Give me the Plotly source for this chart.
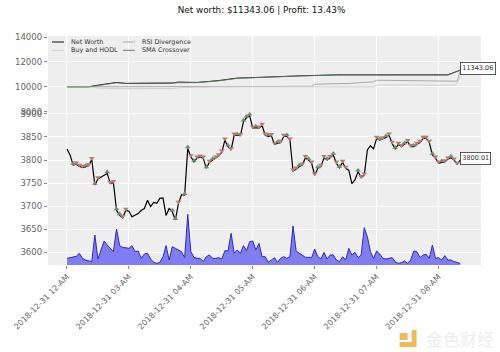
import plotly.graph_objects as go

title_text = "Net worth: $11343.06 | Profit: 13.43%"
tick_index = [0, 20, 40, 60, 80, 100, 120]
tick_labels = ["2018-12-31 12-AM", "2018-12-31 03-AM", "2018-12-31 04-AM", "2018-12-31 05-AM",
               "2018-12-31 06-AM", "2018-12-31 07-AM", "2018-12-31 08-AM"]

price = [3824, 3811, 3789, 3791, 3786, 3784, 3785, 3788, 3801, 3746, 3759, 3764, 3767, 3771, 3749, 3751,
         3691, 3680, 3675, 3691, 3689, 3677, 3680, 3684, 3691, 3695, 3713, 3699, 3708, 3706, 3717, 3718,
         3680, 3695, 3688, 3670, 3706, 3725, 3724, 3825, 3807, 3796, 3804, 3806, 3804, 3782, 3795, 3800,
         3804, 3809, 3817, 3843, 3829, 3822, 3854, 3853, 3853, 3883, 3892, 3896, 3869, 3870, 3869, 3875,
         3854, 3851, 3853, 3834, 3836, 3838, 3851, 3851, 3843, 3776, 3780, 3786, 3789, 3805, 3800, 3793,
         3767, 3782, 3786, 3805, 3800, 3805, 3811, 3793, 3783, 3795, 3782, 3778, 3749, 3757, 3775, 3762,
         3767, 3822, 3831, 3824, 3847, 3843, 3846, 3849, 3854, 3836, 3824, 3834, 3829, 3834, 3840, 3829,
         3829, 3834, 3838, 3847, 3847, 3838, 3811, 3804, 3793, 3795, 3796, 3802, 3805, 3800, 3791, 3800.01]

volume = [20, 22, 25, 26, 35, 20, 15, 13, 10, 90, 18, 45, 72, 60, 50, 40,
          108, 58, 53, 52, 50, 58, 40, 42, 20, 33, 35, 18, 8, 5, 8, 25,
          58, 15, 55, 50, 45, 40, 22, 152, 40, 23, 20, 20, 10, 25, 30, 20,
          20, 22, 18, 43, 42, 95, 35, 45, 35, 58, 43, 70, 72, 45, 65, 25,
          25, 8, 15, 22, 8, 20, 25, 20, 25, 117, 42, 35, 30, 23, 23, 22,
          48, 25, 18, 38, 18, 30, 30, 15, 10, 25, 15, 50, 30, 38, 22, 30,
          112, 85, 40, 20, 42, 33, 20, 18, 20, 22, 10, 5, 7, 12, 5, 15,
          42, 40, 22, 30, 32, 20, 60, 20, 22, 15, 28, 15, 15, 10, 8, 4]

buy_index = [2, 6, 9, 13, 16, 17, 34, 35, 38, 39, 41, 45, 47, 52, 55, 57, 58, 59, 61, 65, 68, 71,
             75, 78, 81, 84, 86, 88, 94, 101, 103, 106, 109, 112, 118, 121, 124]
sell_index = [3, 4, 5, 7, 8, 10, 14, 15, 18, 19, 36, 40, 42, 43, 44, 46, 48, 49, 50, 51, 53, 54, 56,
              60, 62, 63, 64, 66, 67, 69, 70, 72, 73, 74, 76, 77, 79, 80, 82, 83, 85, 87, 89, 90,
              95, 96, 100, 102, 104, 105, 107, 108, 110, 111, 113, 114, 115, 116, 117, 119, 120,
              122, 123, 125, 126]

net_index = [0, 7, 10, 16, 19, 34, 36, 42, 49, 55, 59, 70, 75, 87, 102, 113, 123, 125, 126, 127]
net_worth = [10000, 10000, 10130, 10350, 10270, 10300, 10380, 10350, 10500, 10700, 10730, 10850,
             10880, 10960, 10940, 10930, 10960, 11150, 11270, 11343.06]
sma_worth = [10000, 10000, 10100, 10320, 10280, 10310, 10370, 10340, 10480, 10680, 10720, 10840,
             10870, 10950, 10930, 10920, 10950, 11130, 11250, 11343.06]
hodl_index = [0, 7, 10, 16, 34, 38, 50, 60, 75, 99, 100, 125, 126, 127]
hodl_worth = [10000, 10000, 9900, 9850, 9860, 9950, 10000, 10000, 9990, 10000, 10130, 10130, 10300, 10800]
rsi_index = [0, 30, 59, 79, 80, 91, 99, 100, 126, 127]
rsi_worth = [10000, 10000, 10050, 10040, 10210, 10270, 10400, 10530, 10450, 11300]

legend_names = ["Net Worth", "Buy and HODL", "RSI Divergence", "SMA Crossover"]
legend_colors = ["#111111", "#cfcfcf", "#aaaaaa", "#5b8a5b"]

GRID = "#ffffff"
BG = "#eeeeee"
TXT = "#666666"
FONT = "DejaVu Sans"
L, T = 48, 36
PW, PH = 433.5, 229
W, H = 500, 352
R, B = W - L - PW, H - T - PH


def px(x):
    return (x - L) / PW


def py(y):
    return (H - B - y) / PH


fig = go.Figure()
fig.add_trace(go.Scatter(x=net_index, y=net_worth, mode="lines", line=dict(color=legend_colors[0], width=1),
                         showlegend=False, xaxis="x", yaxis="y"))
fig.add_trace(go.Scatter(x=rsi_index, y=rsi_worth, mode="lines", line=dict(color=legend_colors[2], width=1),
                         showlegend=False, xaxis="x", yaxis="y"))
fig.add_trace(go.Scatter(x=hodl_index, y=hodl_worth, mode="lines", line=dict(color=legend_colors[1], width=1),
                         showlegend=False, xaxis="x", yaxis="y"))
fig.add_trace(go.Scatter(x=net_index, y=sma_worth, mode="lines", line=dict(color=legend_colors[3], width=0.8),
                         showlegend=False, xaxis="x", yaxis="y"))

idx = list(range(len(price)))
fig.add_trace(go.Scatter(x=idx, y=volume, mode="lines", fill="tozeroy", fillcolor="#7f7df2",
                         line=dict(color="#2c2ab0", width=1), showlegend=False, xaxis="x2", yaxis="y3"))
fig.add_trace(go.Scatter(x=idx, y=price, mode="lines", line=dict(color="#000000", width=1.2),
                         showlegend=False, xaxis="x2", yaxis="y2"))
fig.add_trace(go.Scatter(x=buy_index, y=[price[i] + 3 for i in buy_index], mode="markers",
                         marker=dict(symbol="triangle-up", size=5, color="#6f8f72"),
                         showlegend=False, xaxis="x2", yaxis="y2"))
fig.add_trace(go.Scatter(x=sell_index, y=[price[i] + 3 for i in sell_index], mode="markers",
                         marker=dict(symbol="triangle-down", size=5, color="#bb7a70"),
                         showlegend=False, xaxis="x2", yaxis="y2"))

annots = [
    dict(x=net_index[-1], y=net_worth[-1], xref="x", yref="y", text=f"{net_worth[-1]:.2f}", showarrow=False,
         xanchor="left", yanchor="middle", yshift=2, font=dict(family=FONT, size=6.5, color="#333333"),
         bgcolor="#ffffff", bordercolor="#333333", borderwidth=0.8, borderpad=1.5),
    dict(x=idx[-1], y=price[-1], xref="x2", yref="y2", text=f"{price[-1]:.2f}", showarrow=False,
         xanchor="left", yanchor="middle", yshift=2, font=dict(family=FONT, size=6.5, color="#333333"),
         bgcolor="#ffffff", bordercolor="#333333", borderwidth=0.8, borderpad=1.5),
    dict(x=px(460), y=py(338), xref="paper", yref="paper", text="金色财经", showarrow=False, xanchor="center",
         yanchor="middle", font=dict(family="Noto Sans CJK SC", size=17, color="#ececec")),
]
shapes = []
legend_slots = [(52, 42), (52, 50.3), (123, 42), (123, 50.3)]
for name, color, (lx, ly) in zip(legend_names, legend_colors, legend_slots):
    annots.append(dict(x=px(lx + 17), y=py(ly), xref="paper", yref="paper", text=name, showarrow=False,
                       xanchor="left", yanchor="middle", font=dict(family=FONT, size=6.4, color="#333333")))
    shapes.append(dict(type="line", xref="paper", yref="paper", x0=px(lx), x1=px(lx + 12), y0=py(ly), y1=py(ly),
                       line=dict(color=color, width=1), layer="above"))

# watermark icon
icon = [(400, 347), (417, 347), (417, 330), (412, 330), (412, 342), (400, 342)]
path = "M " + " L ".join(f"{px(a):.4f} {py(b):.4f}" for a, b in icon) + " Z"
shapes.append(dict(type="path", xref="paper", yref="paper", path=path, fillcolor="#f0b95a", line=dict(width=0)))
shapes.append(dict(type="rect", xref="paper", yref="paper", x0=px(400), x1=px(408), y0=py(340), y1=py(333),
                   fillcolor="#f0b95a", line=dict(width=0)))

xrange_ = [-6.13, 133.7]
axis_common = dict(showgrid=True, gridcolor=GRID, gridwidth=1, zeroline=False, showline=False,
                   ticks="outside", ticklen=3, tickcolor="#888888", tickwidth=0.8,
                   tickfont=dict(family=FONT, size=8.6, color=TXT))
fig.update_layout(
    width=W, height=H,
    margin=dict(l=L, r=R, t=T, b=B, autoexpand=False),
    paper_bgcolor="#ffffff", plot_bgcolor=BG,
    title=dict(text=title_text, x=261.5 / W, xanchor="center", y=1 - 9.5 / H, yanchor="middle",
               font=dict(family=FONT, size=8.8, color="#111111")),
    font=dict(family=FONT),
    showlegend=False,
    xaxis=dict(domain=[0, 1], range=xrange_, anchor="y", tickvals=tick_index, showticklabels=False,
               showgrid=True, gridcolor=GRID, gridwidth=1, zeroline=False),
    yaxis=dict(domain=[0.668, 1], range=[7975, 14080], tickvals=[8000, 10000, 12000, 14000],
               tickformat="d", **axis_common),
    xaxis2=dict(domain=[0, 1], range=xrange_, anchor="y2", tickvals=tick_index, ticktext=tick_labels,
                tickangle=-45, **{**axis_common, "tickfont": dict(family=FONT, size=8, color=TXT)}),
    yaxis2=dict(domain=[0, 0.668], range=[3572.5, 3904], tickvals=[3600, 3650, 3700, 3750, 3800, 3850, 3900],
                anchor="x2", tickformat="d", **axis_common),
    yaxis3=dict(domain=[0, 0.668], range=[0, 459], overlaying="y2", visible=False, anchor="x2"),
    annotations=annots,
    shapes=shapes,
)
fig.write_html("out.html", post_script="document.body.style.margin='0';",
               config=dict(displayModeBar=False))
